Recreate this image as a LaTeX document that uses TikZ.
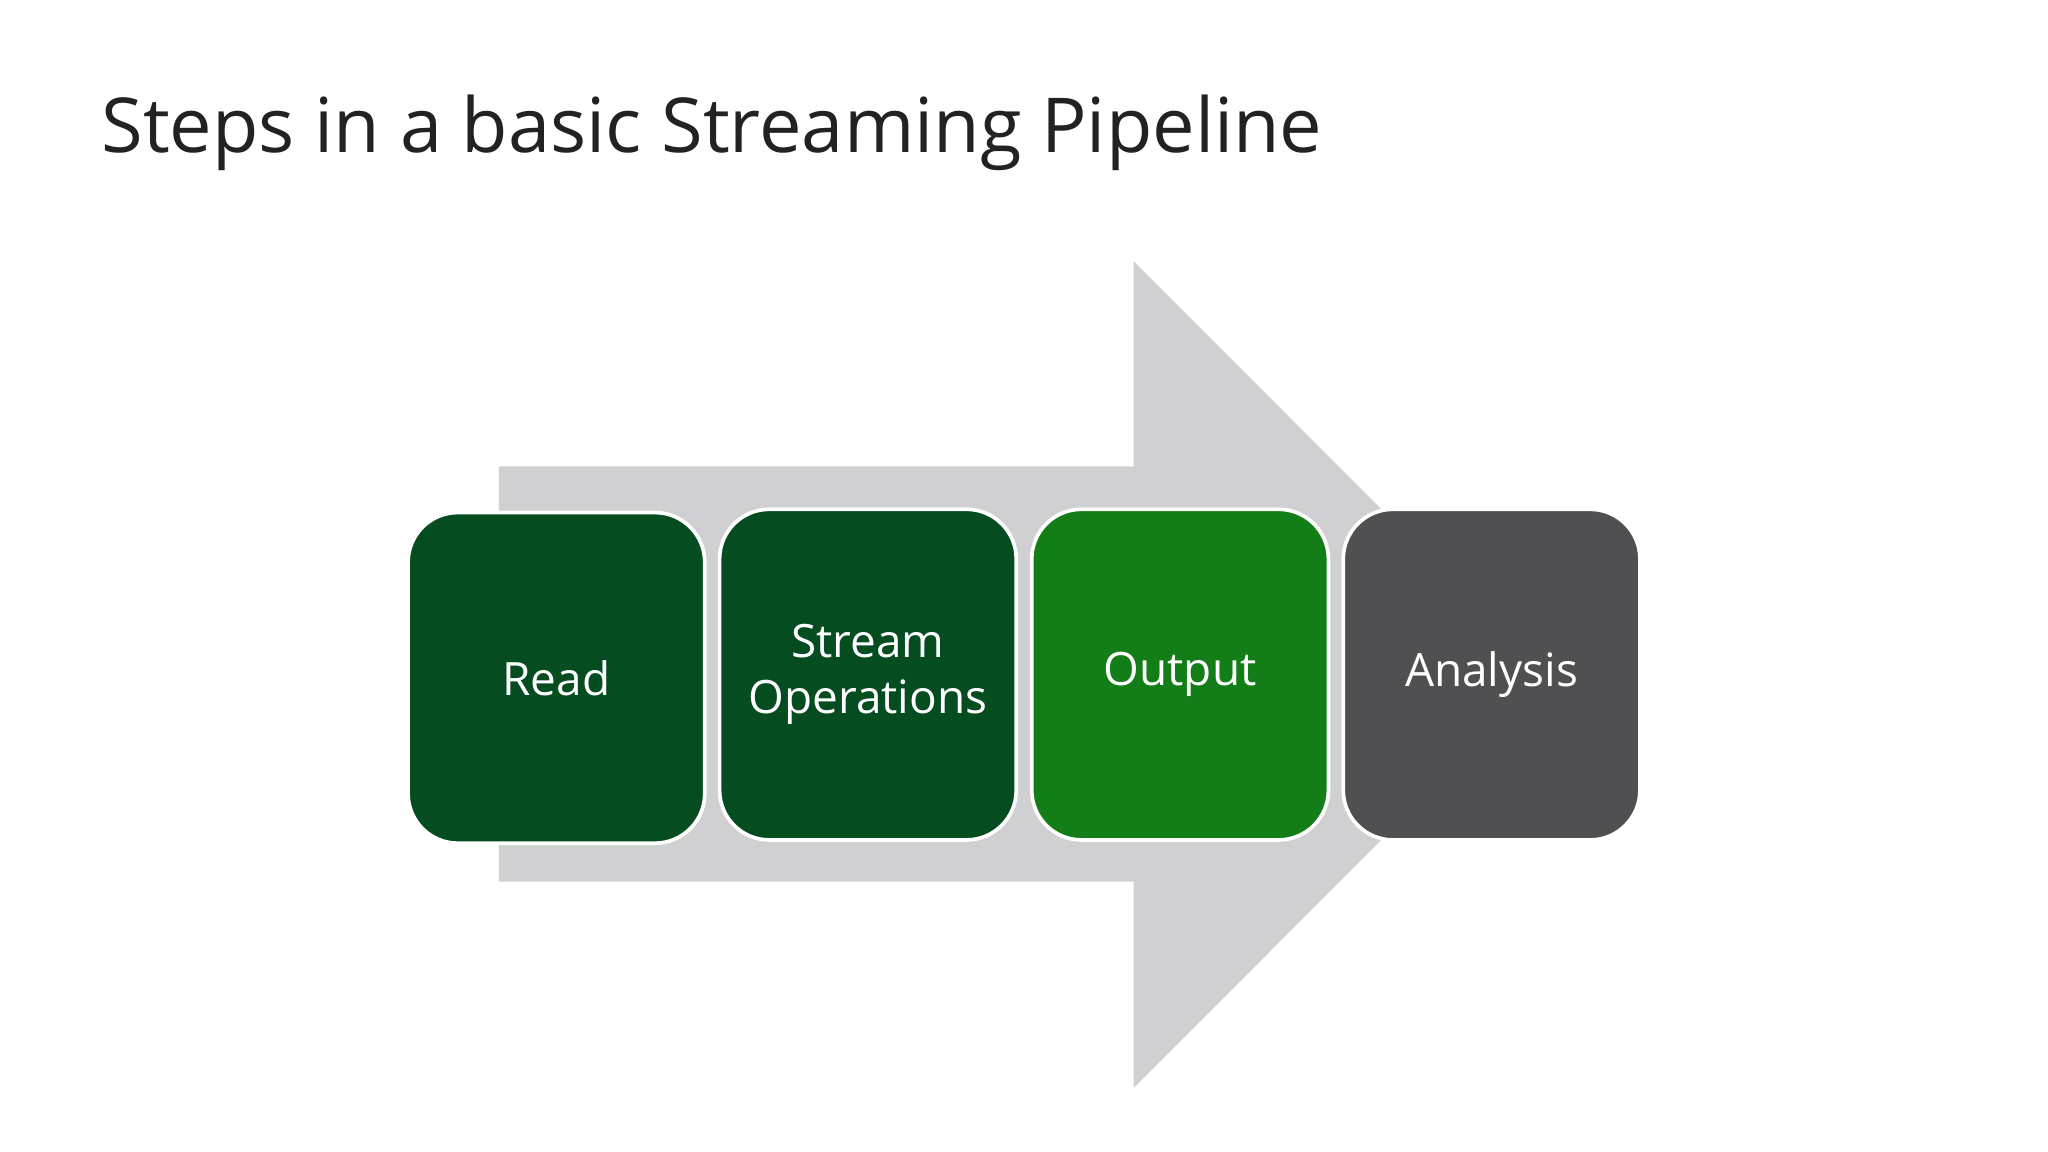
\documentclass[tikz,border=0pt]{standalone}
\usepackage{fontspec}
\setmainfont{Open Sans}
\definecolor{arrowgray}{HTML}{D0CFD1}
\definecolor{dgreen}{HTML}{054D20}
\definecolor{lgreen}{HTML}{137D17}
\definecolor{dgray}{HTML}{505052}
\definecolor{titlec}{HTML}{222222}
\begin{document}
\begin{tikzpicture}[x=0.01cm,y=-0.01cm,
  stepbox/.style={draw=white,line width=0.8pt,rounded corners=0.38cm,minimum width=2.27cm,minimum height=2.53cm,text=white,font=\fontsize{10}{12.2}\selectfont,align=center,inner sep=0pt}]
\useasboundingbox (0,0) rectangle (1568,882);
\fill[white] (0,0) rectangle (1568,882);
\node[anchor=base west,text=titlec,font=\fontsize{16.5}{20}\selectfont,inner sep=0pt] (title) at (77,117) {Steps in a basic Streaming Pipeline};
\fill[arrowgray] (382,357) -- (868,357) -- (868,200) -- (1184,516.5) -- (868,833) -- (868,675) -- (382,675) -- cycle;
\node[stepbox,fill=dgreen] (read) at (426,519) {Read};
\node[stepbox,fill=dgreen] (ops) at (664.5,516.5) {Stream\\Operations};
\node[stepbox,fill=lgreen] (out) at (903.5,516.5) {Output};
\node[stepbox,fill=dgray] (ana) at (1142,516.5) {Analysis};
\end{tikzpicture}
\end{document}
